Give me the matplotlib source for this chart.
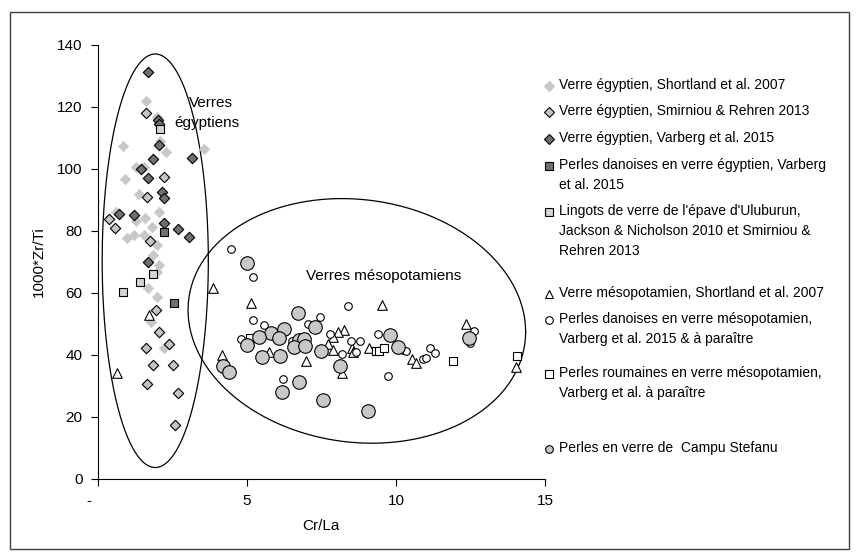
import numpy as np
import matplotlib
matplotlib.use("Agg")
import matplotlib.pyplot as plt
from matplotlib.lines import Line2D
from matplotlib.patches import Rectangle

plt.rcParams["font.family"] = ["Liberation Sans", "DejaVu Sans"]

# Verre égyptien, Shortland et al. 2007 (losanges gris clair)
eg_shortland_x = [1.63, 2.00, 2.10, 0.86, 2.28, 3.56, 1.29, 1.54, 0.92, 1.37, 2.04, 0.62, 1.57,
                  1.29, 1.82, 0.98, 1.22, 1.54, 1.99, 1.87, 2.04, 1.99, 1.70, 1.99, 1.78, 2.21]
eg_shortland_y = [122.0, 116.9, 109.0, 107.5, 105.6, 106.3, 100.7, 100.7, 96.7, 91.9, 86.2, 86.2, 84.3,
                  83.3, 81.4, 77.6, 78.7, 78.8, 75.5, 72.3, 69.0, 66.9, 61.7, 58.8, 50.5, 42.1]

# Verre égyptien, Smirniou & Rehren 2013
eg_smirniou_x = [1.63, 2.21, 1.67, 0.38, 0.58, 1.74, 1.96, 2.05, 1.63, 2.38, 1.84, 2.52, 1.67, 2.68, 2.60]
eg_smirniou_y = [118.2, 97.4, 90.9, 83.8, 80.9, 76.9, 54.5, 47.3, 42.4, 43.4, 36.8, 36.8, 30.6, 27.6, 17.4]

# Verre égyptien, Varberg et al. 2015
eg_varberg_x = [1.70, 2.02, 2.06, 2.07, 3.16, 1.87, 1.45, 1.68, 2.15, 2.21, 0.72, 1.23, 2.21, 2.68, 3.05, 1.70]
eg_varberg_y = [131.2, 115.8, 114.5, 107.7, 103.6, 103.2, 99.9, 97.0, 92.5, 90.5, 85.5, 85.2, 82.5, 80.5, 78.2, 70.1]

# Perles danoises en verre égyptien
dk_eg_x = [2.24, 2.55]
dk_eg_y = [79.6, 56.7]

# Lingots d'Uluburun
ulu_x = [2.10, 1.85, 1.42, 0.86]
ulu_y = [112.8, 66.0, 63.6, 60.4]

# Verre mésopotamien, Shortland et al. 2007
meso_x = [1.73, 0.64, 3.87, 5.13, 5.74, 7.00, 4.17, 8.18, 9.53, 8.25, 8.05, 7.90, 7.73, 7.90,
          8.52, 8.55, 9.11, 10.54, 10.68, 12.34, 14.03]
meso_y = [52.9, 34.1, 61.5, 56.7, 41.1, 38.2, 40.0, 34.3, 56.0, 48.1, 47.3, 45.9, 43.4, 41.6,
          42.2, 41.1, 42.2, 38.6, 37.3, 49.9, 36.0]

# Perles danoises en verre mésopotamien
dk_meso_x = [4.46, 5.22, 5.22, 5.58, 7.45, 7.04, 4.79, 6.53, 6.22, 8.38, 7.80, 8.18, 8.49, 8.79,
             8.66, 9.39, 10.24, 10.35, 9.73, 10.90, 11.02, 11.13, 11.30, 12.63, 12.50]
dk_meso_y = [74.2, 65.3, 51.3, 49.7, 52.2, 50.0, 45.1, 44.6, 32.2, 55.8, 46.8, 40.2, 44.6, 44.6,
             41.0, 46.8, 41.6, 41.4, 33.2, 38.7, 39.1, 42.4, 40.7, 47.8, 44.0]

# Perles roumaines en verre mésopotamien
ro_x = [5.10, 9.34, 9.45, 9.60, 11.90, 14.07]
ro_y = [45.4, 41.4, 41.4, 42.2, 38.0, 39.7]

# Perles en verre de Campu Stefanu
cs_x = [5.02, 6.72, 7.28, 6.25, 5.82, 5.41, 6.08, 5.02, 6.75, 6.92, 6.59, 6.95, 7.49, 5.52, 6.11,
        4.21, 4.40, 6.75, 6.17, 7.54, 9.08, 8.13, 9.81, 10.07, 12.46]
cs_y = [69.8, 53.6, 48.9, 48.4, 47.0, 45.9, 45.6, 43.2, 44.8, 45.1, 42.7, 42.9, 41.4, 39.5, 39.8,
        36.5, 34.6, 31.2, 28.0, 25.5, 21.9, 36.5, 46.5, 42.7, 45.6]

labels = [
    "Verre égyptien, Shortland et al. 2007",
    "Verre égyptien, Smirniou & Rehren 2013",
    "Verre égyptien, Varberg et al. 2015",
    "Perles danoises en verre égyptien, Varberg\net al. 2015",
    "Lingots de verre de l'épave d'Uluburun,\nJackson & Nicholson 2010 et Smirniou &\nRehren 2013",
    "Verre mésopotamien, Shortland et al. 2007",
    "Perles danoises en verre mésopotamien,\nVarberg et al. 2015 & à paraître",
    "Perles roumaines en verre mésopotamien,\nVarberg et al. à paraître",
    "Perles en verre de  Campu Stefanu",
]

styles = [
    dict(marker="D", s=28, c="#c8c8c8", edgecolors="#c8c8c8", linewidths=0.5),
    dict(marker="D", s=28, c="#c4c4c4", edgecolors="black", linewidths=0.8),
    dict(marker="D", s=28, c="#707070", edgecolors="black", linewidths=0.8),
    dict(marker="s", s=34, c="#707070", edgecolors="black", linewidths=0.8),
    dict(marker="s", s=34, c="#d4d4d4", edgecolors="black", linewidths=0.8),
    dict(marker="^", s=48, c="white", edgecolors="black", linewidths=0.8),
    dict(marker="o", s=30, c="white", edgecolors="black", linewidths=0.8),
    dict(marker="s", s=30, c="white", edgecolors="black", linewidths=0.8),
    dict(marker="o", s=95, c="#c8c8c8", edgecolors="black", linewidths=0.8),
]
series = [(eg_shortland_x, eg_shortland_y), (eg_smirniou_x, eg_smirniou_y), (eg_varberg_x, eg_varberg_y),
          (dk_eg_x, dk_eg_y), (ulu_x, ulu_y), (meso_x, meso_y), (dk_meso_x, dk_meso_y),
          (ro_x, ro_y), (cs_x, cs_y)]

fig = plt.figure(figsize=(8.6, 5.57), dpi=100)
ax = fig.add_axes([97.7 / 860, 1 - 479 / 557, (545 - 97.7) / 860, (479 - 45) / 557])

for (x, y), st in zip(series, styles):
    ax.scatter(x, y, zorder=3, **st)

# ellipses
t = np.linspace(0, 2 * np.pi, 400)
ax.plot(1.93 + 1.78 * np.cos(t), 70.4 + 66.7 * np.sin(t), color="black", lw=0.9, zorder=2)
ax.plot(8.69 + 5.66 * np.cos(t), 51.0 - 3.5 * np.cos(t) + 39.3 * np.sin(t), color="black", lw=0.9, zorder=2)

ax.text(3.05, 121.4, "Verres", fontsize=11, va="center", ha="left")
ax.text(2.57, 114.7, "égyptiens", fontsize=11, va="center", ha="left")
ax.text(7.0, 65.5, "Verres mésopotamiens", fontsize=11, va="center", ha="left")

ax.set_xlim(0, 15)
ax.set_ylim(0, 140)
ax.set_xticks([0, 5, 10, 15])
ax.set_xticklabels(["-    ", "5", "10", "15"])
ax.set_yticks(range(0, 141, 20))
ax.tick_params(direction="out", length=5, width=0.8, labelsize=11, pad=6)
ax.spines["top"].set_visible(False)
ax.spines["right"].set_visible(False)
ax.set_xlabel("Cr/La", fontsize=11, labelpad=8)
ax.set_ylabel("1000*Zr/Ti", fontsize=11, labelpad=8)

# légende
rows = [86, 112, 139, 166, 212, 294, 320, 374, 449]
for lab, st, yp in zip(labels, styles, rows):
    fig.text(559 / 860, 1 - (yp - 8) / 557, lab, fontsize=10, va="top", ha="left", linespacing=1.55)
    fig.add_artist(Line2D([549 / 860], [1 - yp / 557], marker=st["marker"], markersize=5.5,
                          markerfacecolor=st["c"], markeredgecolor=st["edgecolors"],
                          markeredgewidth=0.8, linestyle="none", transform=fig.transFigure))

fig.add_artist(Rectangle((10 / 860, 1 - 549 / 557), 839 / 860, 537 / 557, fill=False,
                         edgecolor="#404040", lw=1.0, transform=fig.transFigure))

fig.savefig("out.png", dpi=100)
